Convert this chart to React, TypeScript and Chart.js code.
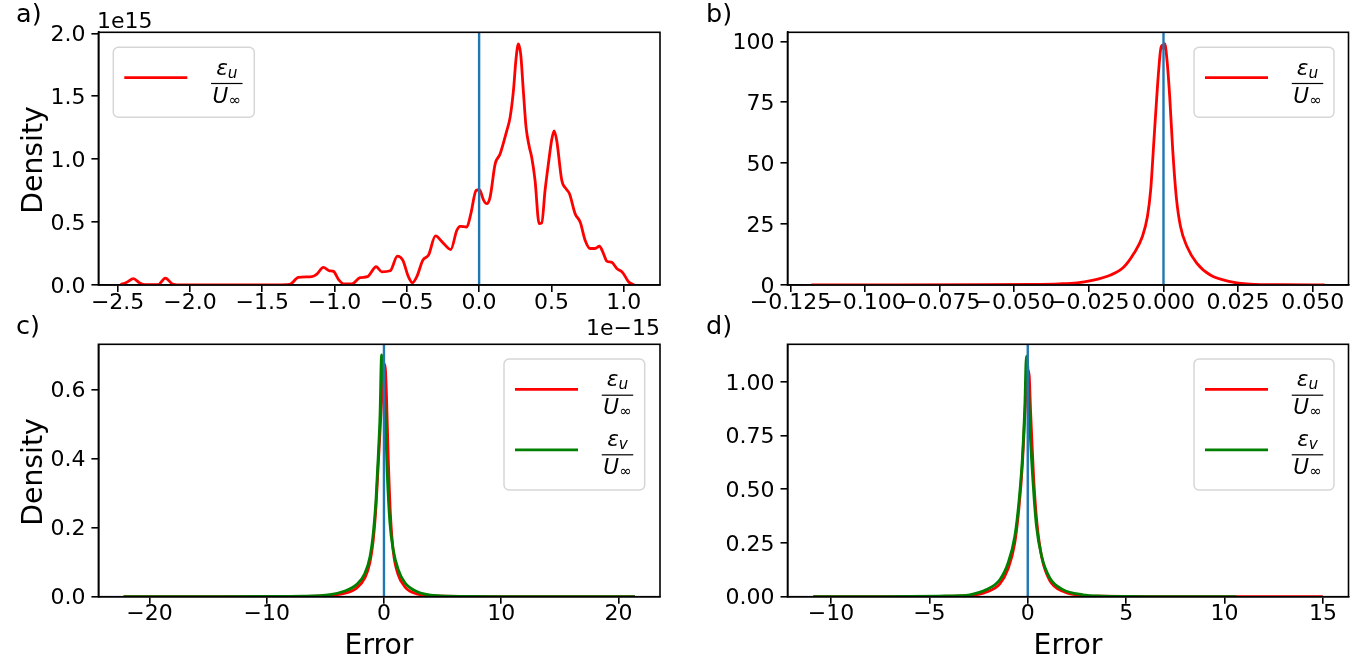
import React, { useEffect, useRef } from "react";
import { Chart, registerables } from "chart.js";

Chart.register(...registerables);

const W = 1366;
const H = 663;
const FAMILY = "'DejaVu Sans', 'Liberation Sans', sans-serif";
const TICK_SIZE = 22;
const LABEL_SIZE = 28.3;
const RED = "#ff0000";
const GREEN = "#008000";
const BLUE = "#1f77b4";

// ---------- Panel a (x in units of 1e-15, y in units of 1e15)
const aX = [-2.48, -2.44, -2.39, -2.35, -2.31, -2.22, -2.17, -2.12, -2.06, -1.4, -1.31, -1.25, -1.157, -1.122, -1.077, -1.035, -1.007, -0.973, -0.934, -0.88, -0.823, -0.772, -0.712, -0.673, -0.615, -0.565, -0.528, -0.489, -0.461, -0.431, -0.389, -0.35, -0.302, -0.251, -0.196, -0.154, -0.131, -0.085, -0.057, -0.021, 0.002, 0.03, 0.053, 0.076, 0.111, 0.145, 0.191, 0.214, 0.237, 0.256, 0.272, 0.288, 0.306, 0.325, 0.348, 0.364, 0.387, 0.415, 0.433, 0.456, 0.479, 0.503, 0.519, 0.537, 0.572, 0.602, 0.625, 0.664, 0.699, 0.733, 0.768, 0.802, 0.832, 0.86, 0.883, 0.918, 0.952, 0.994, 1.033, 1.072];
const aY = [0.003, 0.02, 0.05, 0.018, 0.002, 0.002, 0.055, 0.008, 0.0, 0.0, 0.004, 0.06, 0.066, 0.087, 0.14, 0.113, 0.108, 0.045, 0.008, 0.008, 0.058, 0.066, 0.145, 0.105, 0.113, 0.23, 0.198, 0.066, 0.018, 0.066, 0.198, 0.237, 0.39, 0.337, 0.282, 0.435, 0.466, 0.461, 0.567, 0.751, 0.757, 0.677, 0.646, 0.698, 0.962, 1.041, 1.225, 1.33, 1.54, 1.805, 1.915, 1.83, 1.54, 1.25, 1.093, 1.014, 0.83, 0.488, 0.493, 0.751, 0.962, 1.16, 1.225, 1.146, 0.83, 0.764, 0.725, 0.567, 0.5, 0.356, 0.29, 0.29, 0.308, 0.25, 0.19, 0.18, 0.132, 0.097, 0.026, 0.0];
const aTicksX = [-2.5, -2.0, -1.5, -1.0, -0.5, 0.0, 0.5, 1.0];
const aTicksY = [0.0, 0.5, 1.0, 1.5, 2.0];

// ---------- Panel b
const bX = [-0.118, -0.09, -0.06, -0.045, -0.035, -0.029, -0.0243, -0.0177, -0.0132, -0.0099, -0.0071, -0.0054, -0.0043, -0.0032, -0.0021, -0.001, -0.0004, 0.0, 0.0004, 0.0012, 0.0021, 0.0031, 0.0043, 0.0057, 0.0079, 0.0112, 0.0157, 0.0223, 0.029, 0.04, 0.054];
const bY = [0.02, 0.05, 0.12, 0.25, 0.5, 0.9, 1.8, 4.1, 7.5, 13.0, 19.8, 28.0, 38.9, 59.4, 80.0, 96.3, 98.4, 97.0, 99.0, 92.0, 77.0, 55.3, 36.0, 24.0, 15.7, 8.9, 4.1, 1.4, 0.4, 0.1, 0.02];
const bTicksX = [-0.125, -0.1, -0.075, -0.05, -0.025, 0.0, 0.025, 0.05];
const bTicksY = [0, 25, 50, 75, 100];

// ---------- Panel c
const cUX = [-22.2, -15, -10, -7, -5, -3.47, -2.33, -1.62, -1.19, -0.91, -0.68, -0.49, -0.3, -0.1, 0.08, 0.2, 0.35, 0.55, 0.8, 1.2, 1.8, 2.8, 4.5, 7, 10, 15, 21.4];
const cUY = [0.0, 0.0002, 0.0005, 0.001, 0.003, 0.009, 0.025, 0.055, 0.1, 0.165, 0.26, 0.38, 0.5, 0.62, 0.673, 0.6, 0.42, 0.24, 0.13, 0.065, 0.028, 0.008, 0.002, 0.0007, 0.0003, 0.0001, 0.0];
const cVX = [-22.2, -15, -10, -7, -4.6, -3.47, -2.33, -1.62, -1.19, -0.91, -0.68, -0.49, -0.34, -0.2, -0.06, 0.09, 0.28, 0.51, 0.79, 1.22, 1.79, 2.79, 4.5, 7, 10, 15, 21.4];
const cVY = [0.0, 0.0002, 0.0006, 0.0015, 0.006, 0.015, 0.035, 0.068, 0.116, 0.184, 0.28, 0.405, 0.52, 0.7, 0.647, 0.55, 0.357, 0.213, 0.136, 0.078, 0.04, 0.015, 0.003, 0.001, 0.0004, 0.0001, 0.0];
const cTicksX = [-20, -10, 0, 10, 20];
const cTicksY = [0.0, 0.2, 0.4, 0.6];

// ---------- Panel d
const dUX = [-10.9, -8, -6, -4.5, -3.5, -2.95, -2.1, -1.42, -1.0, -0.66, -0.44, -0.27, -0.15, -0.05, 0.05, 0.15, 0.3, 0.47, 0.72, 1.12, 1.79, 2.8, 3.8, 5, 7, 10, 15];
const dUY = [0.0, 0.0002, 0.0006, 0.0015, 0.003, 0.005, 0.022, 0.06, 0.13, 0.25, 0.42, 0.62, 0.84, 1.0, 1.05, 0.85, 0.55, 0.34, 0.18, 0.075, 0.025, 0.005, 0.002, 0.001, 0.0004, 0.0002, 0.0];
const dVX = [-10.9, -8, -6, -4.5, -3.5, -2.95, -2.1, -1.42, -1.0, -0.66, -0.44, -0.27, -0.15, -0.07, 0.02, 0.1, 0.27, 0.44, 0.7, 1.12, 1.79, 2.8, 3.8, 5, 7, 10.6];
const dVY = [0.0, 0.0003, 0.001, 0.003, 0.005, 0.009, 0.033, 0.079, 0.157, 0.28, 0.45, 0.65, 0.886, 1.12, 1.04, 0.81, 0.53, 0.33, 0.19, 0.087, 0.033, 0.009, 0.003, 0.001, 0.0003, 0.0];
const dTicksX = [-10, -5, 0, 5, 10, 15];
const dTicksY = [0.0, 0.25, 0.5, 0.75, 1.0];

const vlineX = [0];
const legendSubs = ["u", "v"];

type Series = { x: number[]; y: number[]; color: string; order: number };
type TextItem = { text: string; x: number; y: number; align: CanvasTextAlign; size: number };
type Panel = {
  area: { l: number; t: number; r: number; b: number };
  xMin: number; xMax: number; yMin: number; yMax: number;
  xTicks: number[]; yTicks: number[]; xDec: number; yDec: number;
  series: Series[];
  legend: { x: number; y: number; w: number; h: number; colors: string[] };
  texts: TextItem[];
  yTitle?: { text: string; x: number; y: number };
  xTitle?: { text: string; x: number; y: number };
};

const YW = 80;
const XH = 50;

function fmt(v: number, dec: number): string {
  const s = Math.abs(v).toFixed(dec);
  return (v < 0 && Math.abs(v) > 1e-12 ? "\u2212" : "") + s;
}

const panels: Panel[] = [
  {
    area: { l: 98.4, t: 32.3, r: 660, b: 285 },
    xMin: -2.633, xMax: 1.251, yMin: 0, yMax: 2.008,
    xTicks: aTicksX, yTicks: aTicksY, xDec: 1, yDec: 1,
    series: [{ x: aX, y: aY, color: RED, order: 1 }],
    legend: { x: 113.3, y: 47.3, w: 141, h: 70, colors: [RED] },
    texts: [
      { text: "a)", x: 16, y: 22, align: "left", size: 25.5 },
      { text: "1e15", x: 97, y: 28, align: "left", size: TICK_SIZE },
      { text: "1e\u221215", x: 660, y: 335, align: "right", size: TICK_SIZE },
    ],
    yTitle: { text: "Density", x: 42, y: 160 },
  },
  {
    area: { l: 787.5, t: 32.3, r: 1348.5, b: 285 },
    xMin: -0.126, xMax: 0.062, yMin: 0, yMax: 103.7,
    xTicks: bTicksX, yTicks: bTicksY, xDec: 3, yDec: 0,
    series: [{ x: bX, y: bY, color: RED, order: 1 }],
    legend: { x: 1194, y: 47.3, w: 140, h: 70, colors: [RED] },
    texts: [{ text: "b)", x: 706, y: 22, align: "left", size: 25.5 }],
  },
  {
    area: { l: 98.4, t: 344.3, r: 660, b: 596.7 },
    xMin: -24.35, xMax: 23.54, yMin: 0, yMax: 0.731,
    xTicks: cTicksX, yTicks: cTicksY, xDec: 0, yDec: 1,
    series: [
      { x: cUX, y: cUY, color: RED, order: 1 },
      { x: cVX, y: cVY, color: GREEN, order: 0 },
    ],
    legend: { x: 504, y: 359, w: 140.7, h: 131, colors: [RED, GREEN] },
    texts: [{ text: "c)", x: 16, y: 334, align: "left", size: 25.5 }],
    yTitle: { text: "Density", x: 42, y: 472 },
    xTitle: { text: "Error", x: 379, y: 654 },
  },
  {
    area: { l: 787.5, t: 344.3, r: 1348.5, b: 596.7 },
    xMin: -12.21, xMax: 16.3, yMin: 0, yMax: 1.175,
    xTicks: dTicksX, yTicks: dTicksY, xDec: 0, yDec: 2,
    series: [
      { x: dUX, y: dUY, color: RED, order: 1 },
      { x: dVX, y: dVY, color: GREEN, order: 0 },
    ],
    legend: { x: 1194, y: 359, w: 140, h: 131, colors: [RED, GREEN] },
    texts: [{ text: "d)", x: 706, y: 334, align: "left", size: 25.5 }],
    xTitle: { text: "Error", x: 1068, y: 654 },
  },
];

function drawFrac(ctx: CanvasRenderingContext2D, cx: number, barY: number, sub: string) {
  ctx.fillStyle = "#000";
  ctx.textBaseline = "alphabetic";
  ctx.textAlign = "left";
  const big = `italic 21.5px ${FAMILY}`;
  const small = `italic 15.3px ${FAMILY}`;
  const smallUp = `15.3px ${FAMILY}`;
  ctx.font = big;
  const wE = ctx.measureText("\u03b5").width;
  ctx.font = small;
  const wS = ctx.measureText(sub).width;
  const nx = cx - (wE + wS) / 2;
  ctx.font = big;
  ctx.fillText("\u03b5", nx, barY - 9);
  ctx.font = small;
  ctx.fillText(sub, nx + wE, barY - 6);
  ctx.font = big;
  const wU = ctx.measureText("U").width;
  ctx.font = smallUp;
  const wI = ctx.measureText("\u221e").width;
  const dx = cx - (wU + wI) / 2;
  ctx.font = big;
  ctx.fillText("U", dx, barY + 19);
  ctx.font = smallUp;
  ctx.fillText("\u221e", dx + wU, barY + 21);
  const bw = Math.max(wE + wS, wU + wI) + 3;
  ctx.fillRect(cx - bw / 2, barY - 0.6, bw, 1.2);
}

function makeDecor(p: Panel) {
  return {
    id: "decor",
    afterDatasetsDraw(chart: any) {
      const ctx: CanvasRenderingContext2D = chart.ctx;
      const { left, right, top, bottom } = chart.chartArea;
      const xs = chart.scales.x;
      ctx.save();
      for (const v of vlineX) {
        const px = xs.getPixelForValue(v);
        ctx.strokeStyle = BLUE;
        ctx.lineWidth = 2.4;
        ctx.beginPath();
        ctx.moveTo(px, top);
        ctx.lineTo(px, bottom);
        ctx.stroke();
      }
      ctx.strokeStyle = "#000";
      ctx.lineWidth = 1.6;
      ctx.strokeRect(left, top, right - left, bottom - top);
      const L = p.legend;
      ctx.beginPath();
      (ctx as any).roundRect(L.x, L.y, L.w, L.h, 5);
      ctx.fillStyle = "rgba(255,255,255,0.8)";
      ctx.fill();
      ctx.strokeStyle = "#d6d6d6";
      ctx.lineWidth = 1.5;
      ctx.stroke();
      L.colors.forEach((c, i) => {
        const ly = L.y + 30.4 + i * 60.4;
        ctx.strokeStyle = c;
        ctx.lineWidth = 2.8;
        ctx.beginPath();
        ctx.moveTo(L.x + 11, ly);
        ctx.lineTo(L.x + 74, ly);
        ctx.stroke();
        drawFrac(ctx, L.x + 113.5, L.y + 36.2 + i * 59.6, legendSubs[i]);
      });
      ctx.fillStyle = "#000";
      ctx.textBaseline = "alphabetic";
      for (const t of p.texts) {
        ctx.font = `${t.size}px ${FAMILY}`;
        ctx.textAlign = t.align;
        ctx.fillText(t.text, t.x, t.y);
      }
      ctx.font = `${LABEL_SIZE}px ${FAMILY}`;
      if (p.yTitle) {
        ctx.save();
        ctx.translate(p.yTitle.x, p.yTitle.y);
        ctx.rotate(-Math.PI / 2);
        ctx.textAlign = "center";
        ctx.fillText(p.yTitle.text, 0, 0);
        ctx.restore();
      }
      if (p.xTitle) {
        ctx.textAlign = "center";
        ctx.fillText(p.xTitle.text, p.xTitle.x, p.xTitle.y);
      }
      ctx.restore();
    },
  };
}

function buildConfig(p: Panel): any {
  const tickFont = { family: FAMILY, size: TICK_SIZE, lineHeight: 1 };
  return {
    type: "line",
    data: {
      datasets: p.series.map((s) => ({
        data: s.x.map((x, i) => ({ x, y: s.y[i] })),
        borderColor: s.color,
        borderWidth: 2.8,
        pointRadius: 0,
        fill: false,
        cubicInterpolationMode: "monotone",
        order: s.order,
      })),
    },
    options: {
      responsive: false,
      animation: false,
      events: [],
      layout: {
        padding: {
          left: p.area.l - YW,
          top: p.area.t,
          right: W - p.area.r,
          bottom: H - p.area.b - XH,
        },
      },
      plugins: { legend: { display: false }, tooltip: { enabled: false } },
      scales: {
        x: {
          type: "linear",
          min: p.xMin,
          max: p.xMax,
          afterFit: (s: any) => { s.height = XH; },
          afterBuildTicks: (s: any) => { s.ticks = p.xTicks.map((v) => ({ value: v })); },
          ticks: {
            callback: (v: any) => fmt(Number(v), p.xDec),
            font: tickFont,
            color: "#000",
            padding: 0,
            autoSkip: false,
            maxRotation: 0,
            minRotation: 0,
          },
          grid: { drawOnChartArea: false, drawTicks: true, tickLength: 7, color: "#000", lineWidth: 1.6 },
          border: { display: true, color: "#000", width: 1.6 },
        },
        y: {
          type: "linear",
          min: p.yMin,
          max: p.yMax,
          afterFit: (s: any) => { s.width = YW; },
          afterBuildTicks: (s: any) => { s.ticks = p.yTicks.map((v) => ({ value: v })); },
          ticks: {
            callback: (v: any) => fmt(Number(v), p.yDec),
            font: tickFont,
            color: "#000",
            padding: 6,
            labelOffset: 2,
            autoSkip: false,
          },
          grid: { drawOnChartArea: false, drawTicks: true, tickLength: 7, color: "#000", lineWidth: 1.6 },
          border: { display: true, color: "#000", width: 1.6 },
        },
      },
    },
    plugins: [makeDecor(p)],
  };
}

function PanelCanvas({ panel }: { panel: Panel }) {
  const ref = useRef<HTMLCanvasElement | null>(null);
  useEffect(() => {
    if (!ref.current) return;
    const chart = new Chart(ref.current, buildConfig(panel));
    return () => chart.destroy();
  }, [panel]);
  return (
    <canvas
      ref={ref}
      width={W}
      height={H}
      style={{ position: "absolute", left: 0, top: 0, width: W, height: H }}
    />
  );
}

export default function App() {
  return (
    <div style={{ position: "absolute", left: 0, top: 0, width: W, height: H, background: "#fff" }}>
      {panels.map((p, i) => (
        <PanelCanvas key={i} panel={p} />
      ))}
    </div>
  );
}
